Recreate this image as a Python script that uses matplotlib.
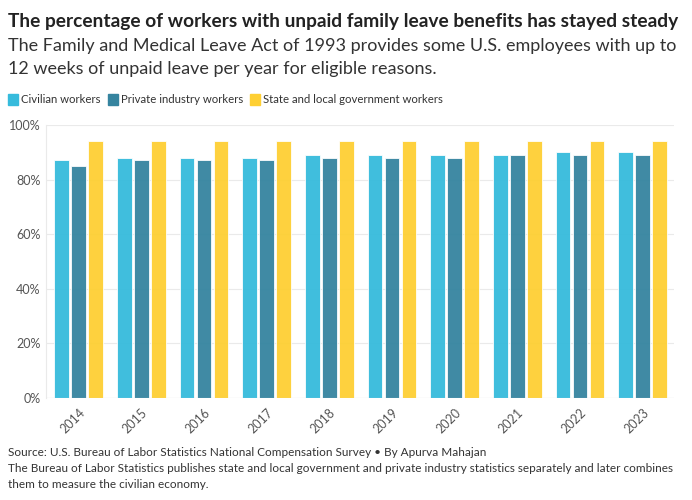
import numpy as np
import matplotlib.pyplot as plt
from matplotlib.ticker import FuncFormatter

years = ['2014', '2015', '2016', '2017', '2018', '2019', '2020', '2021', '2022', '2023']
civilian = [87, 88, 88, 88, 89, 89, 89, 89, 90, 90]
private = [85, 87, 87, 87, 88, 88, 88, 89, 89, 89]
state_local = [94, 94, 94, 94, 94, 94, 94, 94, 94, 94]

series = [
    ('Civilian workers', civilian, '#36bbdc'),
    ('Private industry workers', private, '#35849f'),
    ('State and local government workers', state_local, '#fecf33'),
]

plt.rcParams['font.family'] = ['Lato', 'DejaVu Sans']

fig = plt.figure(figsize=(6.92, 5.0), dpi=100)
ax = fig.add_axes([0.0665, 0.204, 0.9075, 0.546])

x = np.arange(len(years))
width = 0.235
step = 0.27
for i, (name, vals, color) in enumerate(series):
    ax.bar(x + (i - 1) * step, vals, width, color=color, edgecolor='#ffffff',
           linewidth=0.6, alpha=0.95, zorder=3)

ax.set_ylim(0, 100)
ax.set_xlim(-0.52, 9.5)
ax.set_yticks([0, 20, 40, 60, 80, 100])
ax.yaxis.set_major_formatter(FuncFormatter(lambda v, p: f'{v:.0f}%'))
ax.set_xticks(x)
ax.set_xticklabels(years, rotation=45, ha='right', rotation_mode='anchor')
ax.tick_params(axis='y', length=0, labelsize=9, labelcolor='#555555', pad=4)
ax.tick_params(axis='x', length=0, labelsize=9, labelcolor='#555555', pad=6)
ax.grid(axis='y', color='#eaeaea', linewidth=0.8, zorder=0)
for s in ['top', 'right', 'bottom']:
    ax.spines[s].set_visible(False)
ax.spines['left'].set_color('#eaeaea')
ax.axhline(0, color='#dddddd', linewidth=0.8, zorder=4)

fig.text(0.012, 0.958, 'The percentage of workers with unpaid family leave benefits has stayed steady',
         fontsize=13.8, fontweight='bold', color='#222222', va='center')
fig.text(0.012, 0.908, 'The Family and Medical Leave Act of 1993 provides some U.S. employees with up to',
         fontsize=13, color='#333333', va='center')
fig.text(0.012, 0.862, '12 weeks of unpaid leave per year for eligible reasons.',
         fontsize=13, color='#333333', va='center')

# legend
lx = 0.012
for name, vals, color in series:
    fig.patches.append(plt.Rectangle((lx, 0.791), 0.014, 0.02, transform=fig.transFigure,
                                     color=color, figure=fig))
    t = fig.text(lx + 0.019, 0.801, name, fontsize=8.2, color='#333333', va='center')
    fig.canvas.draw()
    bb = t.get_window_extent()
    lx = bb.x1 / fig.bbox.width + 0.01

fig.text(0.012, 0.096, 'Source: U.S. Bureau of Labor Statistics National Compensation Survey \u2022 By Apurva Mahajan',
         fontsize=8.5, color='#333333', va='center')
fig.text(0.012, 0.064, 'The Bureau of Labor Statistics publishes state and local government and private industry statistics separately and later combines',
         fontsize=8.5, color='#333333', va='center')
fig.text(0.012, 0.032, 'them to measure the civilian economy.',
         fontsize=8.5, color='#333333', va='center')

fig.savefig('out.png', dpi=100)
